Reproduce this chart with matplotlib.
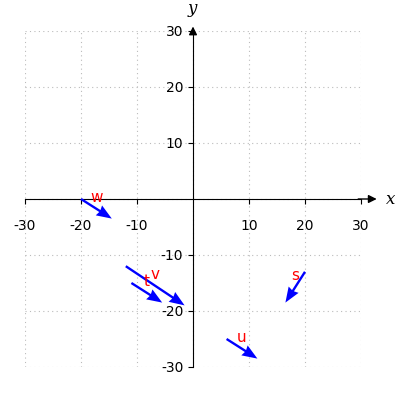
import matplotlib
matplotlib.use("Agg")
import matplotlib.pyplot as plt

plt.rcParams["axes.unicode_minus"] = False
plt.rcParams["mathtext.fontset"] = "dejavuserif"

names = ["w", "t", "v", "s", "u"]
x0 = [-20, -11, -12, 20, 6]
y0 = [0, -15, -12, -13, -25]
dx = [5.5, 5.5, 10.5, -3.5, 5.5]
dy = [-3.5, -3.5, -7.0, -5.5, -3.5]
ticks = [-30, -20, -10, 10, 20, 30]

fig = plt.figure(figsize=(4, 4), dpi=100)
ax = fig.add_axes([0.0625, 0.0825, 0.84, 0.84])
ax.set_xlim(-30, 30)
ax.set_ylim(-30, 30)

for side in ["left", "bottom"]:
    ax.spines[side].set_position("zero")
for side in ["right", "top"]:
    ax.spines[side].set_visible(False)

ax.set_xticks(ticks)
ax.set_yticks(ticks)
ax.set_xticks([-30, -20, -10, 0, 10, 20, 30], minor=True)
ax.set_yticks([-30, -20, -10, 0, 10, 20, 30], minor=True)
ax.tick_params(which="minor", length=0)
ax.tick_params(labelsize=10)
ax.tick_params(axis="x", pad=11)
ax.grid(True, which="both", linestyle=(0, (1, 3)), color="#bbbbbb", linewidth=0.8)

# axis arrows
ax.annotate("", xy=(33.3, 0), xytext=(29, 0), annotation_clip=False,
            arrowprops=dict(arrowstyle="-|>", color="k", lw=1, mutation_scale=12))
ax.annotate("", xy=(0, 31.3), xytext=(0, 29), annotation_clip=False,
            arrowprops=dict(arrowstyle="-|>", color="k", lw=1, mutation_scale=12))
ax.text(34.3, 0, "$x$", fontsize=12, va="center", ha="left")
ax.text(0, 32.2, "$y$", fontsize=12, va="bottom", ha="center")

ax.quiver(x0, y0, dx, dy, angles="xy", scale_units="xy", scale=1,
          color="blue", width=0.007, headwidth=5, headlength=6.5,
          headaxislength=6, zorder=3)

for n, a, b, c, d in zip(names, x0, y0, dx, dy):
    ax.text(a + c / 2, b + d / 2 + 0.7, n, color="red", fontsize=11,
            ha="center", va="bottom")

fig.savefig("out.png")
